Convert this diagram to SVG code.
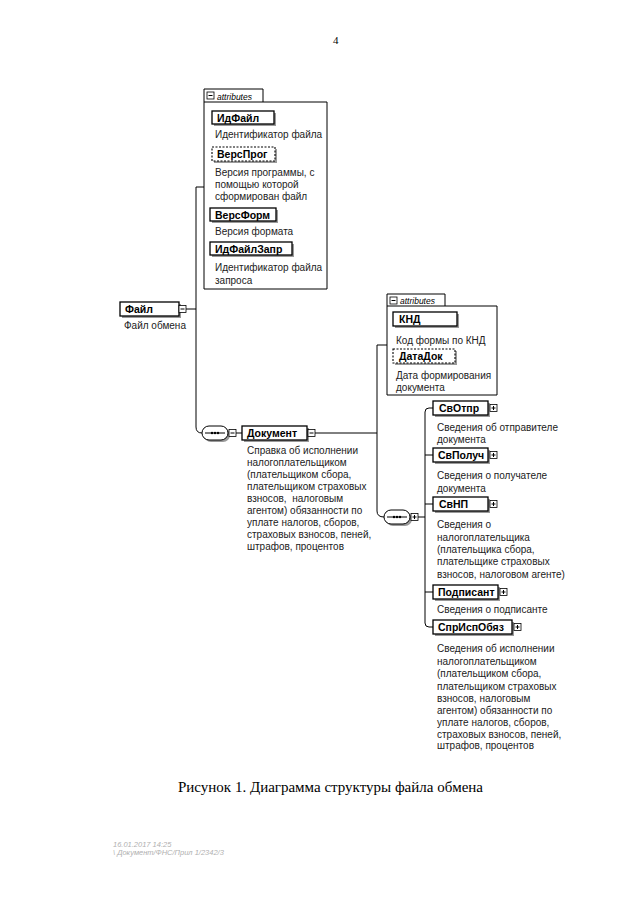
<svg xmlns="http://www.w3.org/2000/svg" width="640" height="905" viewBox="0 0 640 905">
<style>
.bg{fill:#fff}
.el{fill:#fff;stroke:#000;stroke-width:1.3}
.opt{fill:#fff;stroke:#000;stroke-width:1.1;stroke-dasharray:2,1.5}
.sh{fill:#9a9a9a}
.nm{font-family:"Liberation Sans",Arial,sans-serif;font-size:10.5px;font-weight:bold;fill:#000}
.ds{font-family:"Liberation Sans",Arial,sans-serif;font-size:10px;fill:#222}
.at{font-family:"Liberation Sans",Arial,sans-serif;font-size:8.5px;font-style:italic;fill:#000}
.grp{fill:#fff;stroke:#000;stroke-width:1}
.ln{fill:none;stroke:#000;stroke-width:1}
.ic{fill:#fff;stroke:#000;stroke-width:0.8}
.cap{font-family:"Liberation Serif","Times New Roman",serif;font-size:15px;fill:#000}
.ft{font-family:"Liberation Sans",Arial,sans-serif;font-size:7.5px;font-style:italic;fill:#b0b0b0}
</style>
<defs>
<g id="minus"><rect class="ic" x="0" y="0" width="7" height="7"/><path class="ln" d="M1.5,3.5H5.5" stroke-width="0.8"/></g>
<g id="plus"><rect class="ic" x="0" y="0" width="7" height="7"/><path class="ln" d="M1.5,3.5H5.5M3.5,1.5V5.5" stroke-width="0.8"/></g>
<g id="seq"><rect x="2" y="2" width="26" height="14" rx="7" fill="#9a9a9a"/><rect x="0" y="0" width="26" height="14" rx="7" fill="#fff" stroke="#000" stroke-width="1"/><path d="M3,7H23" stroke="#000" stroke-width="1"/><circle cx="10" cy="7" r="1.2"/><circle cx="13" cy="7" r="1.2"/><circle cx="16" cy="7" r="1.2"/></g>
</defs>
<rect class="bg" x="0" y="0" width="640" height="905"/>

<text x="333" y="44" font-family="Liberation Serif,serif" font-size="11px">4</text>

<g id="connectors">
<path class="ln" d="M186,309H196"/>
<path class="ln" d="M204,187H196V427Q196,433 202,433"/>
<path class="ln" d="M236,433H242"/>
<path class="ln" d="M315,433H377"/>
<path class="ln" d="M387,345H377V511Q377,517 384,517"/>
<path class="ln" d="M418,517H425"/>
<path class="ln" d="M433,408H429Q425,408 425,412V623Q425,627 429,627H433"/>
<path class="ln" d="M425,455H433M425,504H433M425,592H433"/>
</g>

<g id="file">
<rect class="sh" x="122" y="304" width="59" height="14"/>
<rect class="el" x="120" y="302" width="59" height="14"/>
<text class="nm" x="125" y="313">Файл</text>
<use href="#minus" x="179" y="305.5"/>
<text class="ds" x="124" y="329">Файл обмена</text>
</g>

<g id="attrs1">
<path class="grp" d="M204,289V89H263V102H327V289Z"/>
<path class="ln" d="M204,102H263"/>
<use href="#minus" x="207" y="92"/>
<text class="at" x="217" y="99.5">attributes</text>
<rect class="sh" x="214" y="113" width="62" height="13"/>
<rect class="el" x="212" y="111" width="62" height="13"/>
<text class="nm" x="217" y="121.5">ИдФайл</text>
<text class="ds" x="215" y="138">Идентификатор файла</text>
<rect class="sh" x="214" y="149" width="63" height="14"/>
<rect class="opt" x="212" y="147" width="63" height="14"/>
<text class="nm" x="217" y="158">ВерсПрог</text>
<text class="ds" x="215" y="176">Версия программы, с</text>
<text class="ds" x="215" y="188">помощью которой</text>
<text class="ds" x="215" y="200">сформирован файл</text>
<rect class="sh" x="212" y="210" width="66" height="13"/>
<rect class="el" x="210" y="208" width="66" height="13"/>
<text class="nm" x="215" y="218.5">ВерсФорм</text>
<text class="ds" x="215" y="235">Версия формата</text>
<rect class="sh" x="212" y="244" width="82" height="13"/>
<rect class="el" x="210" y="242" width="82" height="13"/>
<text class="nm" x="215" y="252.5">ИдФайлЗапр</text>
<text class="ds" x="215" y="271">Идентификатор файла</text>
<text class="ds" x="215" y="284">запроса</text>
</g>

<g id="seq1"><use href="#seq" x="202" y="426"/><use href="#minus" x="229" y="429.5"/></g>

<g id="document">
<rect class="sh" x="244" y="428" width="65" height="14"/>
<rect class="el" x="242" y="426" width="65" height="14"/>
<text class="nm" x="247" y="437">Документ</text>
<use href="#minus" x="308" y="429.5"/>
<text class="ds" x="247" y="454">Справка об исполнении</text>
<text class="ds" x="247" y="466">налогоплательщиком</text>
<text class="ds" x="247" y="478">(плательщиком сбора,</text>
<text class="ds" x="247" y="490">плательщиком страховых</text>
<text class="ds" x="247" y="502" xml:space="preserve">взносов,  налоговым</text>
<text class="ds" x="247" y="514">агентом) обязанности по</text>
<text class="ds" x="247" y="526">уплате налогов, сборов,</text>
<text class="ds" x="247" y="538">страховых взносов, пеней,</text>
<text class="ds" x="247" y="550">штрафов, процентов</text>
</g>

<g id="attrs2">
<path class="grp" d="M387,395V294H445V306H497V395Z"/>
<path class="ln" d="M387,306H445"/>
<use href="#minus" x="390" y="297"/>
<text class="at" x="400" y="304">attributes</text>
<rect class="sh" x="395" y="314" width="64" height="14"/>
<rect class="el" x="393" y="312" width="64" height="14"/>
<text class="nm" x="399" y="323">КНД</text>
<text class="ds" x="396" y="344">Код формы по КНД</text>
<rect class="sh" x="395" y="351" width="62" height="14"/>
<rect class="opt" x="393" y="349" width="62" height="14"/>
<text class="nm" x="399" y="360">ДатаДок</text>
<text class="ds" x="396" y="379">Дата формирования</text>
<text class="ds" x="396" y="391">документа</text>
</g>

<g id="seq2"><use href="#seq" x="384" y="510"/><use href="#plus" x="411" y="513.5"/></g>

<g id="svotpr">
<rect class="sh" x="435" y="403" width="55" height="14"/>
<rect class="el" x="433" y="401" width="55" height="14"/>
<text class="nm" x="439" y="412">СвОтпр</text>
<use href="#plus" x="490" y="404.5"/>
<text class="ds" x="437" y="431">Сведения об отправителе</text>
<text class="ds" x="437" y="443">документа</text>
</g>

<g id="svpoluch">
<rect class="sh" x="435" y="450" width="55" height="14"/>
<rect class="el" x="433" y="448" width="55" height="14"/>
<text class="nm" x="438" y="459">СвПолуч</text>
<use href="#plus" x="490" y="451.5"/>
<text class="ds" x="437" y="479">Сведения о получателе</text>
<text class="ds" x="437" y="492">документа</text>
</g>

<g id="svnp">
<rect class="sh" x="435" y="499" width="55" height="14"/>
<rect class="el" x="433" y="497" width="55" height="14"/>
<text class="nm" x="439" y="508">СвНП</text>
<use href="#plus" x="490" y="500.5"/>
<text class="ds" x="437" y="528">Сведения о</text>
<text class="ds" x="437" y="541">налогоплательщика</text>
<text class="ds" x="437" y="553">(плательщика сбора,</text>
<text class="ds" x="437" y="565">плательщике страховых</text>
<text class="ds" x="437" y="578">взносов, налоговом агенте)</text>
</g>

<g id="podpisant">
<rect class="sh" x="435" y="587" width="65" height="14"/>
<rect class="el" x="433" y="585" width="65" height="14"/>
<text class="nm" x="438" y="596">Подписант</text>
<use href="#plus" x="500" y="588.5"/>
<text class="ds" x="437" y="613">Сведения о подписанте</text>
</g>

<g id="sprispobyaz">
<rect class="sh" x="435" y="622" width="79" height="14"/>
<rect class="el" x="433" y="620" width="79" height="14"/>
<text class="nm" x="438" y="631">СпрИспОбяз</text>
<use href="#plus" x="514" y="623.5"/>
<text class="ds" x="437" y="652">Сведения об исполнении</text>
<text class="ds" x="437" y="665">налогоплательщиком</text>
<text class="ds" x="437" y="677">(плательщиком сбора,</text>
<text class="ds" x="437" y="690">плательщиком страховых</text>
<text class="ds" x="437" y="702">взносов, налоговым</text>
<text class="ds" x="437" y="714">агентом) обязанности по</text>
<text class="ds" x="437" y="726">уплате налогов, сборов,</text>
<text class="ds" x="437" y="738">страховых взносов, пеней,</text>
<text class="ds" x="437" y="749">штрафов, процентов</text>
</g>

<text class="cap" x="178" y="792">Рисунок 1. Диаграмма структуры файла обмена</text>

<text class="ft" x="113" y="847">16.01.2017 14:25</text>
<text class="ft" x="113" y="855">\ Документ/ФНС/Прил 1/2342/3</text>
</svg>
